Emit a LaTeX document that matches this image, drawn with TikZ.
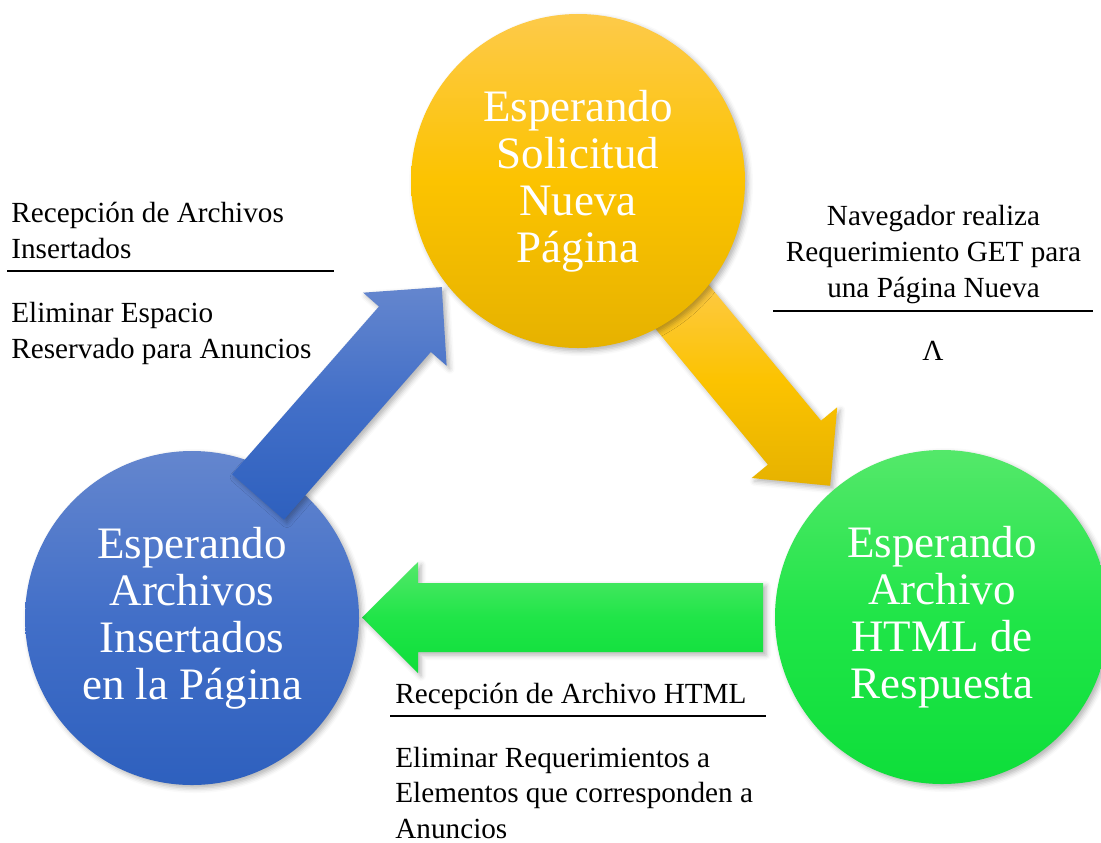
\documentclass[tikz,border=0pt]{standalone}
\usepackage{fontspec}
\setmainfont{Liberation Serif}
\usepackage{tikz}
\usetikzlibrary{shapes,shadows.blur}
\definecolor{otop}{RGB}{253,202,74}
\definecolor{omid}{RGB}{252,195,0}
\definecolor{obot}{RGB}{230,178,0}
\definecolor{btop}{RGB}{100,134,206}
\definecolor{bmid}{RGB}{66,111,200}
\definecolor{bbot}{RGB}{46,96,190}
\definecolor{gtop}{RGB}{84,232,106}
\definecolor{gmid}{RGB}{32,229,72}
\definecolor{gbot}{RGB}{14,222,58}
\tikzstyle{none}=[inner sep=0pt]
\tikzstyle{softshadow}=[blur shadow={shadow xshift=1.5pt,shadow yshift=-1.5pt,shadow blur radius=2.5pt,shadow opacity=30}]
\tikzstyle{statenode}=[circle,minimum size=167pt,inner sep=0pt,align=center,text=white,font=\fontsize{22.5}{23.5}\selectfont,softshadow]
\tikzstyle{waitpage}=[statenode,top color=otop,bottom color=obot,middle color=omid]
\tikzstyle{waitfiles}=[statenode,top color=btop,bottom color=bbot,middle color=bmid]
\tikzstyle{waithtml}=[statenode,top color=gtop,bottom color=gbot,middle color=gmid]
\tikzstyle{orangearrow}=[top color=otop,bottom color=obot,middle color=omid,softshadow]
\tikzstyle{bluearrow}=[top color=btop,bottom color=bbot,middle color=bmid,softshadow]
\tikzstyle{greenarrow}=[top color=gtop,bottom color=gbot,middle color=gmid,softshadow]
\tikzstyle{note}=[inner sep=0pt,anchor=base west,font=\fontsize{14.6}{18}\selectfont]
\tikzstyle{cnote}=[note,anchor=base]
\tikzstyle{rule}=[-,line width=1pt]

\begin{document}
\begin{tikzpicture}[x=0.5pt,y=-0.5pt]
	\useasboundingbox (0,0) rectangle (1101,842);
	\coordinate (otail) at (674,297);
	\coordinate (gtail) at (763,617.5);
	\coordinate (btail) at (258,497);
	\begin{scope}[shift={(otail)},rotate=-50.4]
		\path [style=orangearrow] (0,-34.5) -- (189,-34.5) -- (189,-55.5) -- (245,0) -- (189,55.5) -- (189,34.5) -- (0,34.5) -- cycle;
	\end{scope}
	\begin{scope}[shift={(gtail)},rotate=180]
		\path [style=greenarrow] (0,-34.5) -- (345,-34.5) -- (345,-55.5) -- (401,0) -- (345,55.5) -- (345,34.5) -- (0,34.5) -- cycle;
	\end{scope}
	\node [style=waitpage] (page) at (578,181) {Esperando\\Solicitud\\Nueva\\Página};
	\node [style=waitfiles] (files) at (192,618) {Esperando\\Archivos\\Insertados\\en la Página};
	\node [style=waithtml] (html) at (942,617) {Esperando\\Archivo\\HTML de\\Respuesta};
	\begin{scope}[shift={(btail)},rotate=48.8]
		\path [style=bluearrow] (0,-34.5) -- (223,-34.5) -- (223,-55.5) -- (279,0) -- (223,55.5) -- (223,34.5) -- (0,34.5) -- cycle;
	\end{scope}

	\node [style=note] (recfiles) at (11,222) {Recepción de Archivos};
	\node [style=note] (recfiles2) at (11,258) {Insertados};
	\node [style=none] (ruleAL) at (7,271) {};
	\node [style=none] (ruleAR) at (334,271) {};
	\node [style=note] (delspace) at (11,322) {Eliminar Espacio};
	\node [style=note] (delspace2) at (11,358) {Reservado para Anuncios};
	\node [style=cnote] (getreq) at (933.5,225) {Navegador realiza};
	\node [style=cnote] (getreq2) at (933.5,261) {Requerimiento GET para};
	\node [style=cnote] (getreq3) at (933.5,297) {una Página Nueva};
	\node [style=none] (ruleBL) at (773,311) {};
	\node [style=none] (ruleBR) at (1093,311) {};
	\node [style=cnote] (noact) at (933,360) {Λ};
	\node [style=note] (rechtml) at (395,703) {Recepción de Archivo HTML};
	\node [style=none] (ruleCL) at (390,716) {};
	\node [style=none] (ruleCR) at (766,716) {};
	\node [style=note] (delreq) at (395,767) {Eliminar Requerimientos a};
	\node [style=note] (delreq2) at (395,802) {Elementos que corresponden a};
	\node [style=note] (delreq3) at (395,838) {Anuncios};
	\draw [style=rule] (ruleAL.center) to (ruleAR.center);
	\draw [style=rule] (ruleBL.center) to (ruleBR.center);
	\draw [style=rule] (ruleCL.center) to (ruleCR.center);
\end{tikzpicture}
\end{document}
